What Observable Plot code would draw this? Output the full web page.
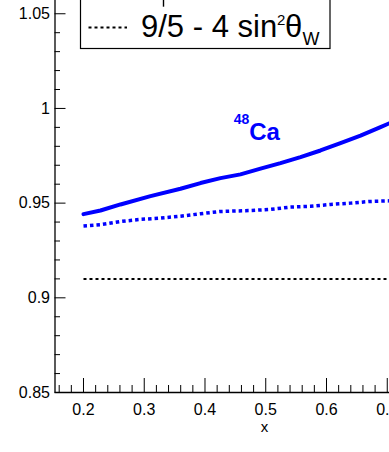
<!DOCTYPE html>
<html><head><meta charset="utf-8">
<script src="https://cdn.jsdelivr.net/npm/d3@7"></script>
<script src="https://cdn.jsdelivr.net/npm/@observablehq/plot@0.6"></script>
<style>
html,body{margin:0;padding:0;background:#fff;overflow:hidden;}
#wrap{position:relative;width:389px;height:452px;overflow:hidden;}
#legend{position:absolute;left:0;top:0;pointer-events:none;}
</style></head><body><div id="wrap"></div>
<script>
// 48Ca, solid curve
const solidX = [0.2, 0.228, 0.2609, 0.3103, 0.3597, 0.3926, 0.4255, 0.4584, 0.4914, 0.5243, 0.5572, 0.5901, 0.6230, 0.6560, 0.6889, 0.7037];
const solidY = [0.9442, 0.9461, 0.9493, 0.9537, 0.9576, 0.9606, 0.9632, 0.9652, 0.9682, 0.9711, 0.9743, 0.9778, 0.9817, 0.9856, 0.9901, 0.9922];
// 48Ca, dotted curve
const dottedX = [0.2, 0.228, 0.2609, 0.2938, 0.3267, 0.3597, 0.3926, 0.4255, 0.4749, 0.5078, 0.5407, 0.5737, 0.6066, 0.6395, 0.6724, 0.7037];
const dottedY = [0.9379, 0.9386, 0.9403, 0.9414, 0.9421, 0.9431, 0.9444, 0.9456, 0.9461, 0.9467, 0.9479, 0.9483, 0.9493, 0.9500, 0.9509, 0.9512];
// 9/5 - 4 sin^2 theta_W reference
const weakX = [0.2, 0.7037];
const weakY = [0.91, 0.91];

const xMajor = [0.2, 0.3, 0.4, 0.5, 0.6, 0.7];
const xMinor = [0.16, 0.18, 0.22, 0.24, 0.26, 0.28, 0.32, 0.34, 0.36, 0.38, 0.42, 0.44, 0.46, 0.48, 0.52, 0.54, 0.56, 0.58, 0.62, 0.64, 0.66, 0.68];
const yMajor = [0.85, 0.9, 0.95, 1, 1.05];
const yMinor = [0.86, 0.87, 0.88, 0.89, 0.91, 0.92, 0.93, 0.94, 0.96, 0.97, 0.98, 0.99, 1.01, 1.02, 1.03, 1.04];

const labelText = ["Ca"];
const labelSup = ["48"];
const labelPos = {x: 0.4728, y: 0.9831};
const xTitle = "x";
const xTitleAt = 0.498;

const xDomain = [0.1531, 0.7037];
const yDomain = [0.85, 1.057];

const W = 389, H = 452, mL = 54.5, mR = 0, mT = 0, mB = 60;
const pw = W - mL - mR, ph = H - mT - mB;
const blue = "#0000ff";
const font = "'Liberation Sans', Arial, Helvetica, sans-serif";
const fmt = d => String(d);

const solid = solidX.map((x, i) => ({x, y: solidY[i]}));
const dotted = dottedX.map((x, i) => ({x, y: dottedY[i]}));
const weak = weakX.map((x, i) => ({x, y: weakY[i]}));

const chart = Plot.plot({
  width: W, height: H,
  marginLeft: mL, marginRight: mR, marginTop: mT, marginBottom: mB,
  style: {fontFamily: font, fontSize: "16px", color: "black", background: "white"},
  x: {domain: xDomain, axis: null},
  y: {domain: yDomain, axis: null},
  marks: [
    Plot.line(weak, {x: "x", y: "y", stroke: "black", strokeWidth: 2, strokeDasharray: "3,3", strokeLinecap: "butt", clip: true}),
    Plot.line(dotted, {x: "x", y: "y", stroke: blue, strokeWidth: 3.5, strokeDasharray: "3.5,3", strokeLinecap: "butt", strokeLinejoin: "miter", clip: true}),
    Plot.line(solid, {x: "x", y: "y", stroke: blue, strokeWidth: 4, clip: true}),
    Plot.text(labelText, {x: () => labelPos.x, y: () => labelPos.y, text: d => d, fill: blue, fontWeight: "bold", fontSize: 24, textAnchor: "start", lineAnchor: "bottom"}),
    Plot.text(labelSup, {x: () => labelPos.x, y: () => labelPos.y, text: d => d, fill: blue, fontWeight: "bold", fontSize: 14, textAnchor: "end", lineAnchor: "bottom", dx: 0, dy: -16}),
    // axis lines
    Plot.ruleX([xDomain[0]], {stroke: "black", strokeWidth: 1.3}),
    Plot.ruleY([yDomain[0]], {stroke: "black", strokeWidth: 1.3}),
    // inward ticks
    Plot.tickY(yMajor, {y: d => d, stroke: "black", insetRight: pw - 11}),
    Plot.tickY(yMinor, {y: d => d, stroke: "black", insetRight: pw - 5.5}),
    Plot.tickX(xMajor, {x: d => d, stroke: "black", insetTop: ph - 14}),
    Plot.tickX(xMinor, {x: d => d, stroke: "black", insetTop: ph - 7}),
    // tick labels
    Plot.axisY(yMajor, {anchor: "left", tickSize: 0, tickPadding: 5, label: null, fontSize: 16, tickFormat: fmt}),
    Plot.axisX(xMajor, {anchor: "bottom", tickSize: 0, tickPadding: 11.5, label: null, fontSize: 16, tickFormat: fmt}),
    Plot.text([xTitle], {x: () => xTitleAt, frameAnchor: "bottom", dy: 39, text: d => d, fontSize: 15, lineAnchor: "bottom"})
  ]
});

const wrap = document.getElementById("wrap");
wrap.appendChild(chart);

const legend = document.createElementNS("http://www.w3.org/2000/svg", "svg");
legend.setAttribute("id", "legend");
legend.setAttribute("width", W);
legend.setAttribute("height", H);
legend.innerHTML = `
  <rect x="80.5" y="-30" width="249.5" height="78.5" fill="white" stroke="black" stroke-width="1.2"/>
  <line x1="163.5" y1="-2" x2="163.5" y2="6.7" stroke="black" stroke-width="1.4"/>
  <line x1="88.5" y1="27.5" x2="127" y2="27.5" stroke="black" stroke-width="2" stroke-dasharray="3,3"/>
  <g font-family="${font}" fill="black">
    <text x="141" y="37.3" font-size="31">9/5 - 4 sin</text>
    <text x="277" y="25" font-size="15">2</text>
    <text x="285" y="37.3" font-size="31">θ</text>
    <text x="302.5" y="45" font-size="18">W</text>
  </g>`;
wrap.appendChild(legend);
</script>
</body></html>
